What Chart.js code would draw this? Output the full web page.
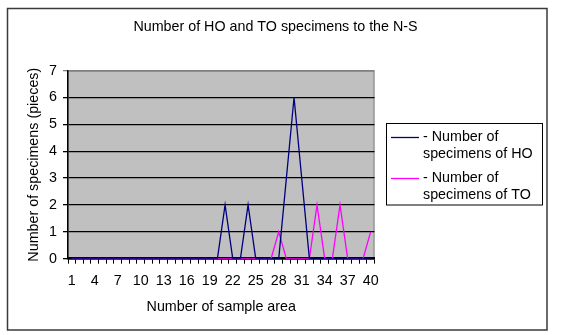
<!DOCTYPE html>
<html>
<head>
<meta charset="utf-8">
<script src="https://cdn.jsdelivr.net/npm/chart.js@4.4.1/dist/chart.umd.min.js"></script>
<style>
  html, body { margin: 0; padding: 0; background: #fff; }
  #wrap { width: 561px; height: 335px; position: relative; }
</style>
</head>
<body>
<div id="wrap"><canvas id="chart" width="561" height="335"></canvas></div>
<script>
// sample areas along the N-S line
const sampleAreas = [1, 2, 3, 4, 5, 6, 7, 8, 9, 10, 11, 12, 13, 14, 15, 16, 17, 18, 19, 20,
	21, 22, 23, 24, 25, 26, 27, 28, 29, 30, 31, 32, 33, 34, 35, 36, 37, 38, 39, 40];
const xTickLabels = [1, 4, 7, 10, 13, 16, 19, 22, 25, 28, 31, 34, 37, 40];
const yTicks = [0, 1, 2, 3, 4, 5, 6, 7];

const specimensHO = [0, 0, 0, 0, 0, 0, 0, 0, 0, 0, 0, 0, 0, 0, 0, 0, 0, 0, 0, 0,
	2, 0, 0, 2, 0, 0, 0, 0, 3, 6, 3, 0, 0, 0, 0, 0, 0, 0, 0, 0];
const specimensTO = [0, 0, 0, 0, 0, 0, 0, 0, 0, 0, 0, 0, 0, 0, 0, 0, 0, 0, 0, 0,
	0, 0, 0, 0, 0, 0, 0, 1, 0, 0, 0, 0, 2, 0, 0, 2, 0, 0, 0, 1];

const chartTitle = "Number of HO and TO specimens to the N-S";
const legendHO = ["- Number of", "specimens of HO"];
const legendTO = ["- Number of", "specimens of TO"];

const FONT = "'Liberation Sans', Arial, sans-serif";
const FS = 14.3;

// grey plot area, outer frame and the title (centred on the whole chart, not the plot)
const backdrop = {
	id: "backdrop",
	beforeDraw: function (chart) {
		const ctx = chart.ctx;
		const a = chart.chartArea;
		ctx.save();
		ctx.fillStyle = "#c0c0c0";
		ctx.fillRect(a.left, a.top, a.right - a.left, a.bottom - a.top);
		ctx.strokeStyle = "#808080";
		ctx.lineWidth = 1;
		ctx.strokeRect(a.left, a.top + 0.5, a.right - a.left - 0.5, a.bottom - a.top);
		ctx.strokeStyle = "#3a3a3a";
		ctx.lineWidth = 1.5;
		ctx.strokeRect(7.5, 8.5, 539.5, 321.5);
		ctx.font = FS + "px " + FONT;
		ctx.fillStyle = "#000";
		ctx.textAlign = "center";
		ctx.textBaseline = "middle";
		ctx.fillText(chartTitle, 275.5, 27);
		ctx.restore();
	}
};

// two-line legend in a box, Excel style
const boxLegend = {
	id: "boxLegend",
	afterDraw: function (chart) {
		const ctx = chart.ctx;
		ctx.save();
		ctx.strokeStyle = "#000";
		ctx.lineWidth = 1;
		ctx.strokeRect(386.5, 123.5, 156, 81.5);
		ctx.font = FS + "px " + FONT;
		ctx.fillStyle = "#000";
		ctx.textBaseline = "middle";
		let y = 137;
		chart.data.datasets.forEach(function (ds) {
			ctx.strokeStyle = ds.borderColor;
			ctx.lineWidth = 1.3;
			ctx.beginPath();
			ctx.moveTo(391, y + 0.5);
			ctx.lineTo(419, y + 0.5);
			ctx.stroke();
			ds.legendLines.forEach(function (line, i) {
				ctx.fillText(line, 423, y + i * 17);
			});
			y += 41;
		});
		ctx.restore();
	}
};

const ctx = document.getElementById("chart");
new Chart(ctx, {
	type: "line",
	data: {
		labels: sampleAreas,
		datasets: [
			{
				label: legendHO.join(" "),
				legendLines: legendHO,
				data: specimensHO,
				borderColor: "#000080",
				borderWidth: 1.3,
				pointRadius: 0,
				tension: 0,
				fill: false
			},
			{
				label: legendTO.join(" "),
				legendLines: legendTO,
				data: specimensTO,
				borderColor: "#ff00ff",
				borderWidth: 1.3,
				pointRadius: 0,
				tension: 0,
				fill: false
			}
		]
	},
	options: {
		responsive: false,
		animation: false,
		events: [],
		layout: {
			padding: { top: 70.7, left: 23.4, right: 186.5, bottom: 15 }
		},
		plugins: {
			legend: { display: false },
			tooltip: { enabled: false },
			title: { display: false }
		},
		scales: {
			x: {
				type: "category",
				offset: true,
				z: 1,
				grid: {
					offset: true,
					drawOnChartArea: false,
					drawTicks: true,
					tickLength: 5,
					color: "#000",
					lineWidth: 1
				},
				border: { display: true, color: "#000", width: 2.5 },
				ticks: {
					autoSkip: false,
					maxRotation: 0,
					padding: 9,
					color: "#000",
					font: { family: FONT, size: FS },
					callback: function (value, index) {
						const v = sampleAreas[index];
						return xTickLabels.indexOf(v) >= 0 ? String(v) : "";
					}
				},
				title: {
					display: true,
					text: "Number of sample area",
					color: "#000",
					font: { family: FONT, size: FS },
					padding: { top: 0, bottom: 4 }
				}
			},
			y: {
				min: yTicks[0],
				max: yTicks[yTicks.length - 1],
				grid: {
					drawTicks: true,
					tickLength: 5,
					color: function (c) {
						if (c.tick && c.tick.value === 7) return "#808080";
						return "#000";
					},
					lineWidth: 1.3
				},
				border: { display: true, color: "#000", width: 1.5 },
				ticks: {
					stepSize: 1,
					padding: 6,
					color: "#000",
					font: { family: FONT, size: FS }
				},
				title: {
					display: true,
					text: "Number of specimens (pieces)",
					color: "#000",
					font: { family: FONT, size: FS },
					padding: { top: 2.5, bottom: 0 }
				}
			}
		}
	},
	plugins: [backdrop, boxLegend]
});
</script>
</body>
</html>
